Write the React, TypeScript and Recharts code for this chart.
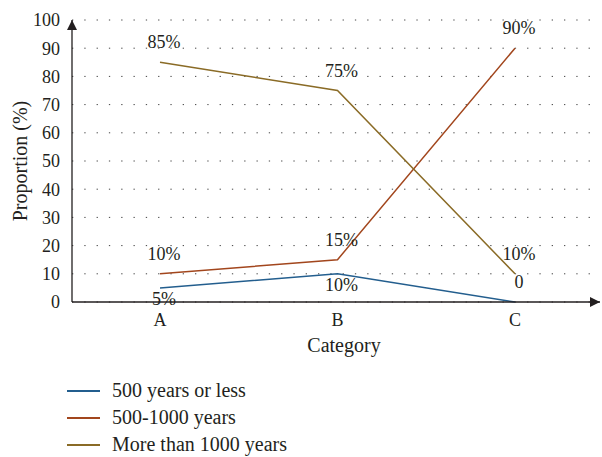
import { LineChart, Line, XAxis, YAxis, CartesianGrid, LabelList } from 'recharts';

// share of items per age group, by category
const categories = ['A', 'B', 'C'];
const upTo500 = [5, 10, 0];
const from500To1000 = [10, 15, 90];
const over1000 = [85, 75, 10];

// value labels as printed next to each point
const upTo500Labels = ['5%', '10%', '0'];
const from500To1000Labels = ['10%', '15%', '90%'];
const over1000Labels = ['85%', '75%', '10%'];

const yTicks = [0, 10, 20, 30, 40, 50, 60, 70, 80, 90, 100];

const seriesNames = ['500 years or less', '500-1000 years', 'More than 1000 years'];

const rows = categories.map((cat, i) => ({
  cat,
  upTo500: upTo500[i],
  from500To1000: from500To1000[i],
  over1000: over1000[i],
}));

const INK = '#231f20';
const FONT = '"Liberation Serif", "Times New Roman", serif';
const colors = ['#235e8e', '#a2461d', '#8a6b26'];

// where each label sits relative to its point
const upTo500Places = ['below', 'below', 'above'];
const allAbove = ['above', 'above', 'above'];

const makeLabel = (texts: string[], places: string[]) => (props: any) => {
  const { x, y, index } = props;
  const below = places[index] === 'below';
  return (
    <text
      x={x + 4}
      y={below ? y + 17 : y - 14}
      textAnchor="middle"
      fontFamily={FONT}
      fontSize={18}
      fill={INK}
    >
      {texts[index]}
    </text>
  );
};

export default function App() {
  const keys = ['upTo500', 'from500To1000', 'over1000'];
  const labels = [
    makeLabel(upTo500Labels, upTo500Places),
    makeLabel(from500To1000Labels, allAbove),
    makeLabel(over1000Labels, allAbove),
  ];
  return (
    <div style={{ position: 'absolute', left: 0, top: 0, width: 602, height: 457, background: '#fff' }}>
      <svg width={0} height={0} style={{ position: 'absolute' }}>
        <defs>
          <marker
            id="axisArrow"
            viewBox="0 0 10 10"
            refX="10"
            refY="5"
            markerWidth="11"
            markerHeight="10"
            markerUnits="userSpaceOnUse"
            orient="auto-start-reverse"
          >
            <path d="M0,0 L10,5 L0,10 z" fill={INK} />
          </marker>
        </defs>
      </svg>
      <LineChart width={602} height={370} data={rows} margin={{ top: 20, right: 2, left: 0, bottom: 0 }}>
        <CartesianGrid vertical={false} stroke="#444" strokeDasharray="1.3 11" />
        <XAxis
          dataKey="cat"
          height={68}
          padding={{ left: 88, right: 85 }}
          axisLine={{ stroke: INK, strokeWidth: 1.3, markerEnd: 'url(#axisArrow)' }}
          tickLine={false}
          tickSize={0}
          tickMargin={11}
          tick={{ fill: INK, fontSize: 18, fontFamily: FONT }}
          label={{ value: 'Category', position: 'insideBottom', offset: 18, dx: 8, fill: INK, fontSize: 20, fontFamily: FONT }}
        />
        <YAxis
          width={72}
          domain={[0, 100]}
          ticks={yTicks}
          interval={0}
          axisLine={{ stroke: INK, strokeWidth: 1.3, markerStart: 'url(#axisArrow)' }}
          tickLine={false}
          tickSize={0}
          tickMargin={12}
          tick={{ fill: INK, fontSize: 18, fontFamily: FONT }}
          label={{ value: 'Proportion (%)', angle: -90, position: 'center', dx: -16, fill: INK, fontSize: 20, fontFamily: FONT }}
        />
        {keys.map((k, i) => (
          <Line
            key={k}
            dataKey={k}
            name={seriesNames[i]}
            stroke={colors[i]}
            strokeWidth={1.5}
            dot={false}
            activeDot={false}
            isAnimationActive={false}
          >
            <LabelList dataKey={k} content={labels[i]} />
          </Line>
        ))}
      </LineChart>
      <div style={{ position: 'absolute', left: 67, top: 377, fontFamily: FONT, fontSize: 20, color: INK }}>
        {seriesNames.map((n, i) => (
          <div key={n} style={{ display: 'flex', alignItems: 'center', height: 27 }}>
            <span style={{ display: 'block', width: 33, height: 2, background: colors[i], marginRight: 12 }} />
            <span>{n}</span>
          </div>
        ))}
      </div>
    </div>
  );
}
